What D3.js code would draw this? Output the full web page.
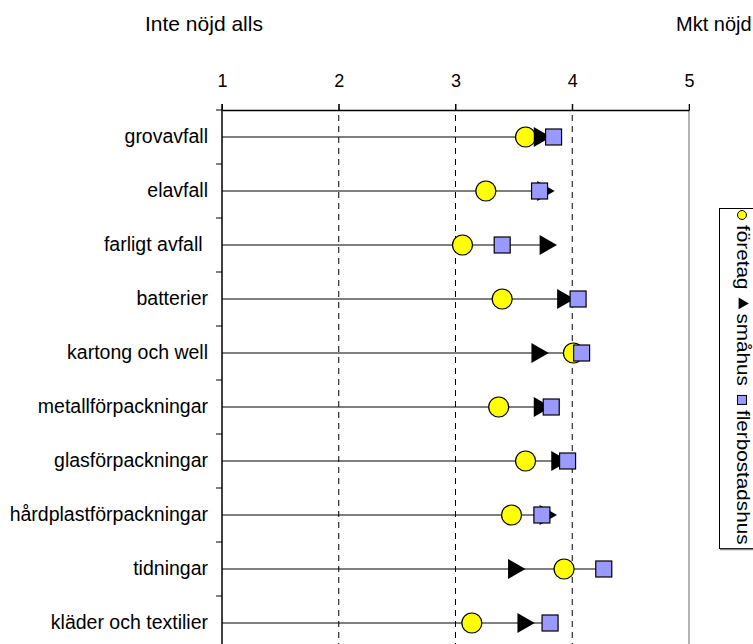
<!DOCTYPE html>
<html>
<head>
<meta charset="utf-8">
<script src="https://cdn.jsdelivr.net/npm/d3@7"></script>
<style>
  body { margin: 0; background: #fff; }
  svg { font-family: "Liberation Sans", Arial, sans-serif; }
</style>
</head>
<body>
<div id="chart"></div>
<script>
// categories, top to bottom
const categories = [
  'grovavfall', 'elavfall', 'farligt avfall ', 'batterier', 'kartong och well',
  'metallförpackningar', 'glasförpackningar', 'hårdplastförpackningar',
  'tidningar', 'kläder och textilier'
];
// mean satisfaction per group (1 = inte nöjd alls, 5 = mkt nöjd)
const foretag = [3.60, 3.26, 3.06, 3.40, 4.01, 3.37, 3.60, 3.48, 3.93, 3.14];
const smahus  = [3.72, 3.75, 3.77, 3.92, 3.70, 3.72, 3.87, 3.77, 3.50, 3.58];
const flerbostadshus = [3.84, 3.72, 3.40, 4.05, 4.08, 3.82, 3.96, 3.74, 4.27, 3.81];
const ticks = [1, 2, 3, 4, 5];
const seriesNames = ['företag', 'småhus', 'flerbostadshus'];

const width = 753, height = 644;
const svg = d3.select('#chart').append('svg')
  .attr('width', width).attr('height', height);

const x = d3.scaleLinear().domain([1, 5]).range([222, 689]);
// band scale for rows, each row 54px, plot starts at y=110
const y = d3.scaleBand().domain(categories).range([110, 110 + 54 * categories.length]);

// header texts
svg.append('text').attr('x', 145).attr('y', 31)
  .attr('font-size', 21).text('Inte nöjd alls');
svg.append('text').attr('x', 676).attr('y', 31)
  .attr('font-size', 20).text('Mkt nöjd');

// dashed gridlines at 2,3,4
svg.append('g').selectAll('line').data(ticks.filter((d) => d > 1 && d < 5))
  .join('line')
  .attr('x1', (d) => x(d)).attr('x2', (d) => x(d))
  .attr('y1', 104).attr('y2', height)
  .attr('stroke', '#000').attr('stroke-width', 1)
  .attr('stroke-dasharray', '6 5');

// right border (grey)
svg.append('line').attr('x1', x(5)).attr('x2', x(5))
  .attr('y1', 104).attr('y2', height)
  .attr('stroke', '#999').attr('stroke-width', 1.5);

// top axis
const topAxis = svg.append('g').attr('transform', 'translate(0,110)')
  .call(d3.axisTop(x).tickValues(ticks).tickFormat(d3.format('d')).tickSize(6).tickSizeOuter(0));
topAxis.select('.domain').attr('stroke', '#000').attr('stroke-width', 1.3);
topAxis.selectAll('.tick line').attr('stroke', '#000');
topAxis.selectAll('text').attr('font-size', 18).attr('font-family', 'Liberation Sans, Arial, sans-serif')
  .attr('fill', '#000').attr('dy', 0).attr('y', -23);

// left axis with ticks between categories
const leftG = svg.append('g');
leftG.append('line').attr('x1', x(1)).attr('x2', x(1))
  .attr('y1', 104).attr('y2', height)
  .attr('stroke', '#000').attr('stroke-width', 1.5);
leftG.selectAll('line.tk').data(d3.range(categories.length + 1))
  .join('line').attr('class', 'tk')
  .attr('x1', x(1) - 6).attr('x2', x(1))
  .attr('y1', (i) => 110 + 54 * i).attr('y2', (i) => 110 + 54 * i)
  .attr('stroke', '#000');
leftG.selectAll('text').data(categories)
  .join('text')
  .attr('x', 208)
  .attr('y', (d) => y(d) + y.bandwidth() / 2 + 6)
  .attr('text-anchor', 'end')
  .attr('font-size', 19.5)
  .style('white-space', 'pre')
  .text((d) => d);

// row lines from 1 to the largest value
const rows = categories.map((c, i) => ({
  cat: c, f: foretag[i], s: smahus[i], b: flerbostadshus[i]
}));
const cy = (d) => y(d.cat) + y.bandwidth() / 2;

svg.append('g').selectAll('line').data(rows)
  .join('line')
  .attr('x1', x(1)).attr('x2', (d) => x(Math.max(d.f, d.s, d.b)))
  .attr('y1', cy).attr('y2', cy)
  .attr('stroke', '#000').attr('stroke-width', 1.2);

// företag - yellow circles
svg.append('g').selectAll('circle').data(rows)
  .join('circle')
  .attr('cx', (d) => x(d.f)).attr('cy', cy).attr('r', 10)
  .attr('fill', '#ffff00').attr('stroke', '#000').attr('stroke-width', 1.2);

// småhus - black triangles pointing right
const tri = d3.symbol().type(d3.symbolTriangle).size(175);
svg.append('g').selectAll('path').data(rows)
  .join('path')
  .attr('d', tri)
  .attr('transform', (d) => `translate(${x(d.s)},${cy(d)}) rotate(90)`)
  .attr('fill', '#000');

// flerbostadshus - lilac squares
svg.append('g').selectAll('rect').data(rows)
  .join('rect')
  .attr('x', (d) => x(d.b) - 8).attr('y', (d) => cy(d) - 8)
  .attr('width', 16).attr('height', 16)
  .attr('fill', '#9999ff').attr('stroke', '#000').attr('stroke-width', 1.2);

// legend box, rotated text (reads top to bottom)
const legend = svg.append('g');
legend.append('rect').attr('x', 719.5).attr('y', 208.5).attr('width', 50).attr('height', 340)
  .attr('fill', '#fff').attr('stroke', '#000').attr('stroke-width', 1);
legend.append('line').attr('x1', 720).attr('x2', 753).attr('y1', 549.5).attr('y2', 549.5)
  .attr('stroke', '#888').attr('stroke-width', 1.5);
const lg = legend.append('g').attr('transform', 'translate(737,0) rotate(90)');

// lay the three entries out one after the other along the rotated axis
let pos = 210;
seriesNames.forEach((name, i) => {
  const mx = pos + 5;
  if (i === 0) {
    lg.append('circle').attr('cx', mx).attr('cy', -5).attr('r', 4.5)
      .attr('fill', '#ffff00').attr('stroke', '#000').attr('stroke-width', 1);
  } else if (i === 1) {
    lg.append('path').attr('d', d3.symbol().type(d3.symbolTriangle).size(60))
      .attr('transform', `translate(${mx},-5)`).attr('fill', '#000');
  } else {
    lg.append('rect').attr('x', mx - 4.5).attr('y', -9.5).attr('width', 9).attr('height', 9)
      .attr('fill', '#9999ff').attr('stroke', '#000').attr('stroke-width', 1);
  }
  const t = lg.append('text').attr('x', pos + 15).attr('y', 0)
    .attr('font-size', 18).text(name);
  const len = t.node().getComputedTextLength() * 1.15;
  t.attr('textLength', len).attr('lengthAdjust', 'spacingAndGlyphs');
  pos += 15 + len + 9;
});
</script>
</body>
</html>
